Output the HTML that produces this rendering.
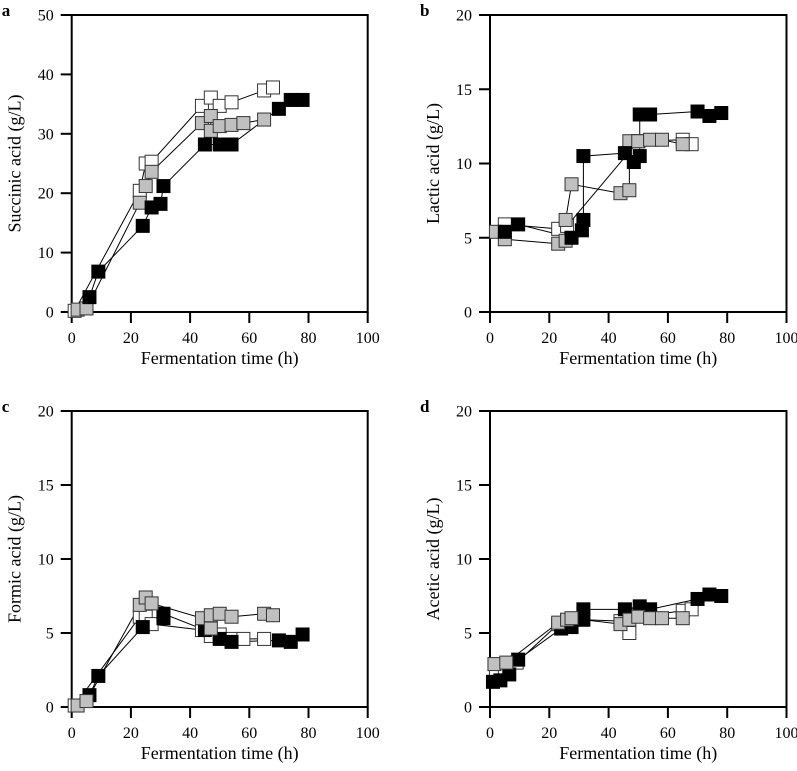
<!DOCTYPE html>
<html><head><meta charset="utf-8"><style>
body{margin:0;background:#fff;}
svg{display:block;font-family:"Liberation Serif",serif;}
</style></head><body>
<svg id="c" width="797" height="771"></svg>
<script>
const xTicks=[0,20,40,60,80,100];
const panelLetters=["a","b","c","d"];
const yTitles=["Succinic acid (g/L)","Lactic acid (g/L)","Formic acid (g/L)","Acetic acid (g/L)"];
const yMax=[50,20,20,20];
const yStep=[10,5,5,5];
// panel a
const aBlackX=[6,9,24,27,30,31,45,50,54,70,74,78];
const aBlackY=[2.5,6.8,14.5,17.6,18.2,21.2,28.2,28.2,28.2,34.2,35.7,35.7];
const aWhiteX=[1,23,25,27,44,47,50,54,65,68];
const aWhiteY=[0.2,20.4,25,25.3,34.7,36.1,34.7,35.3,37.3,37.8];
const aGrayX=[2,5,23,25,27,44,47,47,50,54,58,65];
const aGrayY=[0.4,0.6,18.4,21.2,23.6,31.8,33,30.5,31.3,31.5,31.8,32.4];
// panel b
const bBlackX=[5,9.5,27.5,31,31.5,31.5,45.5,48.5,50.5,50.5,54,70,74,78];
const bBlackY=[5.4,5.9,5.0,5.5,6.2,10.5,10.7,10.1,10.5,13.3,13.3,13.5,13.2,13.4];
const bWhiteX=[5,23,26,50,65,68];
const bWhiteY=[5.9,5.6,5.8,11.5,11.6,11.3];
const bGrayX=[2,5,23,25.5,25.5,27.5,44,47,47,50,54,58,65];
const bGrayY=[5.4,4.9,4.6,4.8,6.2,8.6,8.0,8.2,11.5,11.5,11.6,11.6,11.3];
// panel c
const cBlackX=[6,9,24,31,31,45,50,54,70,74,78];
const cBlackY=[0.8,2.1,5.4,6.0,6.3,5.2,4.6,4.4,4.5,4.4,4.9];
const cWhiteX=[1,23,25,27,44,47,50,54,58,65];
const cWhiteY=[0.1,6.1,6.1,5.6,5.2,4.8,4.9,4.6,4.6,4.6];
const cGrayX=[2,5,23,25,27,44,47,47,50,54,65,68];
const cGrayY=[0.1,0.4,6.9,7.4,7.0,6.0,5.3,6.2,6.3,6.1,6.3,6.2];
// panel d
const dBlackX=[1,3.5,6.5,9.5,24,27.5,31.5,31.5,45.5,50.5,54,70,74,78];
const dBlackY=[1.7,1.8,2.2,3.2,5.3,5.4,5.9,6.6,6.6,6.8,6.6,7.3,7.6,7.5];
const dWhiteX=[2,5,9,23,26,31,44,47,50,54,65,68];
const dWhiteY=[2.5,2.6,3.0,5.6,5.8,5.9,5.8,5.0,6.2,6.2,6.5,6.6];
const dGrayX=[1.5,5.5,23,26,27.5,44,47,50,54,58,65];
const dGrayY=[2.9,3.0,5.7,5.9,6.0,5.6,5.9,6.1,6.0,6.0,6.0];

const panels=[
 {L:71.7,R:367.7,T:15,B:312,s:[[aWhiteX,aWhiteY,"#fff"],[aGrayX,aGrayY,"#c0c0c0"],[aBlackX,aBlackY,"#000"]]},
 {L:490,R:786.5,T:15,B:312,s:[[bWhiteX,bWhiteY,"#fff"],[bGrayX,bGrayY,"#c0c0c0"],[bBlackX,bBlackY,"#000"]]},
 {L:71.7,R:367.7,T:411,B:707,s:[[cWhiteX,cWhiteY,"#fff"],[cBlackX,cBlackY,"#000"],[cGrayX,cGrayY,"#c0c0c0"]]},
 {L:490,R:786.5,T:411,B:707,s:[[dWhiteX,dWhiteY,"#fff"],[dBlackX,dBlackY,"#000"],[dGrayX,dGrayY,"#c0c0c0"]]}
];
const NS="http://www.w3.org/2000/svg";
const svg=document.getElementById("c");
function mk(t,a,p){const e=document.createElementNS(NS,t);for(const k in a)e.setAttribute(k,a[k]);(p||svg).appendChild(e);return e;}
const names=["succinic","lactic","formic","acetic"];
const cn={"#fff":"white","#c0c0c0":"gray","#000":"black"};
panels.forEach((P,i)=>{
 const g=mk("g",{});
 
 
 const sx=v=>P.L+(v/100)*(P.R-P.L);
 const sy=v=>P.B-(v/yMax[i])*(P.B-P.T);
 const fr=mk("rect",{x:P.L,y:P.T,width:P.R-P.L,height:P.B-P.T,fill:"none",stroke:"#000","stroke-width":2},g);
 
 
 xTicks.forEach(t=>{
  const x=sx(t);
  mk("line",{x1:x,y1:P.B,x2:x,y2:P.B+11,stroke:"#000","stroke-width":2},g);
  const tx=mk("text",{x:x,y:P.B+31,"text-anchor":"middle","font-size":"16"},g);
  tx.textContent=t;
  
  
 });
 for(let v=0;v<=yMax[i];v+=yStep[i]){
  const y=sy(v);
  mk("line",{x1:P.L-11,y1:y,x2:P.L,y2:y,stroke:"#000","stroke-width":2},g);
  const tx=mk("text",{x:P.L-18,y:y+5.5,"text-anchor":"end","font-size":"16"},g);
  tx.textContent=v;
  
  
 }
 const xt=mk("text",{x:(P.L+P.R)/2,y:P.B+52,"text-anchor":"middle","font-size":"18"},g);
 xt.textContent="Fermentation time (h)";
 
 
 const yx=P.L-51,yy=(P.T+P.B)/2;
 const yt=mk("text",{x:yx,y:yy,"text-anchor":"middle","font-size":"18",transform:"rotate(-90 "+yx+" "+yy+")"},g);
 yt.textContent=yTitles[i];
 
 
 const lt=mk("text",{x:P.L-70,y:P.T+1,"font-size":"17","font-weight":"bold"},g);
 lt.textContent=panelLetters[i];
 
 
 P.s.forEach(([X,Y,col])=>{
  const pts=X.map((x,k)=>sx(x)+","+sy(Y[k])).join(" ");
  const pl=mk("polyline",{points:pts,fill:"none",stroke:"#000","stroke-width":1},g);
  
  
 });
 P.s.forEach(([X,Y,col])=>{
  X.forEach((x,k)=>{
   const r=mk("rect",{x:sx(x)-6.5,y:sy(Y[k])-6.5,width:13,height:13,fill:col,stroke:col=="#000"?"#000":"#333","stroke-width":1},g);
   
   
  });
 });
});
</script>
</body></html>
